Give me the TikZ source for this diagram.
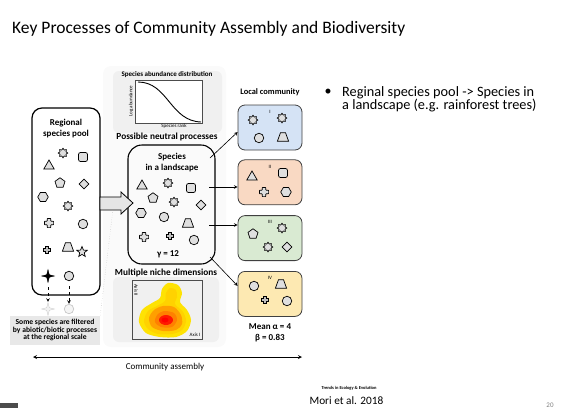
\documentclass[tikz,border=0pt]{standalone}
\usepackage{fontspec}
\setmainfont{Carlito}
\usepackage{tikz}
\usetikzlibrary{positioning}
\usetikzlibrary{shapes.geometric}

\definecolor{comblue}{HTML}{D5E3F5}
\definecolor{compeach}{HTML}{F9D9C3}
\definecolor{comgreen}{HTML}{D9EAD2}
\definecolor{comyellow}{HTML}{FDE9B2}

\begin{document}
\begin{tikzpicture}[x=1pt, y=-1pt,
                          sp/.style={draw, fill=gray!25, line width=0.7pt, inner sep=0pt},
                          roundnode/.style={sp, circle, minimum size=9.5pt},
                          trinode/.style={sp, regular polygon, regular polygon sides=3, minimum size=12pt},
                          pentnode/.style={sp, regular polygon, regular polygon sides=5, minimum size=10.5pt},
                          hexnode/.style={sp, regular polygon, regular polygon sides=6, minimum size=10.5pt},
                          diamnode/.style={sp, diamond, minimum size=10pt},
                          squarednode/.style={sp, rectangle, rounded corners=2pt, minimum size=9pt},
                          trapnode/.style={sp, trapezium, trapezium angle=70, inner xsep=2.5pt, inner ysep=4.3pt},
                          sunnode/.style={sp, star, star points=8, star point ratio=1.45, minimum size=9.5pt},
                          starnode/.style={sp, star, star points=5, star point ratio=2.3, minimum size=11pt},
                          sparknode/.style={draw, fill=black, star, star points=4, star point ratio=3.5, minimum size=13pt, inner sep=0pt, line width=0.3pt},
                          fadedspark/.style={sparknode, draw=gray!45, fill=gray!10},
                          fadedround/.style={roundnode, draw=gray!45, fill=gray!8},
                          plusbig/.pic={\draw[fill=gray!25, line width=0.7pt, rounded corners=0.6pt] (-1.8,-4.6) -- (1.8,-4.6) -- (1.8,-1.8) -- (4.6,-1.8) -- (4.6,1.8) -- (1.8,1.8) -- (1.8,4.6) -- (-1.8,4.6) -- (-1.8,1.8) -- (-4.6,1.8) -- (-4.6,-1.8) -- (-1.8,-1.8) -- cycle;},
                          plussmall/.pic={\draw[fill=gray!50, line width=1.2pt] (-1.3,-3.6) -- (1.3,-3.6) -- (1.3,-1.3) -- (3.6,-1.3) -- (3.6,1.3) -- (1.3,1.3) -- (1.3,3.6) -- (-1.3,3.6) -- (-1.3,1.3) -- (-3.6,1.3) -- (-3.6,-1.3) -- (-1.3,-1.3) -- cycle;},
                          poolbox/.style={draw, rounded corners=10pt, line width=1.2pt, minimum width=68pt, minimum height=187pt},
                          landbox/.style={draw, rounded corners=14pt, line width=1.1pt, minimum width=87pt, minimum height=119pt},
                          combox/.style={draw=black!75, rounded corners=7pt, line width=0.8pt, minimum width=64pt, minimum height=45pt},
                          insetbg/.style={fill=gray!12, rounded corners=6pt},
                          figlabel/.style={font=\bfseries\fontsize{9}{11}\selectfont, align=center},
                          headlabel/.style={font=\bfseries\fontsize{9.3}{11}\selectfont},
                          tinylabel/.style={font=\fontsize{5}{6}\selectfont, inner sep=0pt},
                          link/.style={->, >=stealth, line width=0.6pt},
                          droparrow/.style={->, >=stealth, dashed, line width=0.6pt},
                      ]
                      \useasboundingbox (0,0) rectangle (568,408);
                      %Title and notes
                      \node[anchor=base west, font=\fontsize{17.5}{20}\selectfont, inner sep=0pt] (title) at (12,33) {Key Processes of Community Assembly and Biodiversity};
                      \node[font=\fontsize{14}{16}\selectfont, inner sep=0pt] (bullet) at (328,92) {•};
                      \node[anchor=base west, font=\fontsize{14.3}{16}\selectfont, inner sep=0pt] (note1) at (342,96) {Reginal species pool -> Species in};
                      \node[anchor=base west, font=\fontsize{14.3}{16}\selectfont, inner sep=0pt] (note2) at (342,109.5) {a landscape (e.g. rainforest trees)};
                      \node[font=\bfseries\fontsize{4.5}{5}\selectfont, inner sep=0pt] (journal) at (349,388) {Trends in Ecology \& Evolution};
                      \node[font=\fontsize{11.3}{13}\selectfont, inner sep=0pt] (cite) at (346.5,400.5) {Mori et al. 2018};
                      \node[anchor=south, font=\fontsize{7}{8}\selectfont, text=gray, inner sep=0pt] (page) at (550,407.5) {20};
                      \fill[black!70] (0,403) rectangle (18,408);

                      %Panel
                      \fill[gray!4, rounded corners=8pt] (103,66) rectangle (226,347);
                      \node[insetbg, minimum width=109pt, minimum height=62pt] (sadbg) at (167.5,102) {};
                      \node[insetbg, minimum width=106pt, minimum height=65pt] (nichebg) at (166,309.5) {};

                      %Nodes
                      \node[poolbox]      (pool)     at (66,201.5)    {};
                      \node[landbox]      (land)     at (171.5,204.5) {};
                      \node[combox, fill=comblue]    (com1)     at (270,127.5)   {};
                      \node[combox, fill=compeach]   (com2)     [below=9pt of com1]  {};
                      \node[combox, fill=comgreen]   (com3)     [below=10pt of com2] {};
                      \node[combox, fill=comyellow]  (com4)     [below=10pt of com3] {};

                      \node[figlabel] (poollabel) at (66,128.5)  {Regional\\species pool};
                      \node[figlabel] (landlabel) at (172,162.5) {Species\\in a landscape};
                      \node[figlabel] (gamma)     at (168,254)   {γ = 12};
                      \node[figlabel, font=\bfseries\fontsize{8.4}{10}\selectfont] (localhead) at (270,92) {Local community};
                      \node[figlabel] (alpha) [below=3pt of com4] {Mean α = 4\\β = 0.83};
                      \foreach \c/\r in {com1/I, com2/II, com3/III, com4/IV}
                        \node[tinylabel] (\c num) at ([yshift=-7pt]\c.north) {\r};

                      \foreach \s/\x/\y [count=\i] in {trinode/49/166, sunnode/63/153, squarednode/83/157, pentnode/60/183,
                          diamnode/84/184, hexnode/43/197, sunnode/68/206, roundnode/83/224, trapnode/68/247,
                          starnode/82/252, sparknode/48/276, roundnode/69/276}
                        \node[\s] (pool\i) at (\x,\y) {};
                      \pic (poolplusa) at (49,223) {plusbig};
                      \pic (poolplusb) at (47,250) {plussmall};

                      \foreach \s/\x/\y [count=\i] in {trinode/142/186, sunnode/168/183, squarednode/191/188, pentnode/153/198,
                          sunnode/174/202, diamnode/201/205, hexnode/141/213, roundnode/164/217, trapnode/188/223, roundnode/194/240}
                        \node[\s] (land\i) at (\x,\y) {};
                      \pic (landplusa) at (144,237) {plusbig};
                      \pic (landplusb) at (170,236) {plussmall};

                      \foreach \s/\x/\y [count=\i] in {sunnode/253/120, sunnode/282/118, roundnode/259/138, trapnode/283/137}
                        \node[\s] (oneA\i) at (\x,\y) {};
                      \foreach \s/\x/\y [count=\i] in {trinode/252/177, squarednode/283/173, hexnode/286/192}
                        \node[\s] (twoB\i) at (\x,\y) {};
                      \pic (twoplus) at (264,192) {plusbig};
                      \foreach \s/\x/\y [count=\i] in {pentnode/253/234, sunnode/282/228, sunnode/268/247, diamnode/287/247}
                        \node[\s] (threeC\i) at (\x,\y) {};
                      \foreach \s/\x/\y [count=\i] in {roundnode/254/286, trapnode/281/284, roundnode/287/301}
                        \node[\s] (fourD\i) at (\x,\y) {};
                      \pic (fourplus) at (265,300) {plussmall};

                      \node[fadedspark] (fade1) at (48,309) {};
                      \node[fadedround] (fade2) at (69,309) {};
                      \node[fill=gray!18, minimum width=90pt, minimum height=29pt, align=center, inner sep=0pt,
                            font=\bfseries\fontsize{7.6}{7.8}\selectfont] (filt) at (55,330)
                            {Some species are filtered\\by abiotic/biotic processes\\at the regional scale};

                      %Abundance inset
                      \node[font=\bfseries\fontsize{7}{8}\selectfont, inner sep=0pt] (sadhead) at (167,75) {Species abundance distribution};
                      \draw[black!70, fill=white, line width=0.6pt] (135,80) rectangle (202,123);
                      \draw[line width=0.9pt] (138,82) .. controls (168,82) and (170,121) .. (201,122);
                      \node[tinylabel] (rank) at (174,126.5) {Species rank};
                      \node[tinylabel, rotate=90] (logab) at (131,101) {Log abundance};
                      \node[headlabel] (neutral) at (167,137) {Possible neutral processes};

                      %Niche inset
                      \node[headlabel] (niche) at (166,273) {Multiple niche dimensions};
                      \fill[yellow!85!orange] plot[smooth cycle] coordinates {(168,283) (178,285) (182,293) (180,302) (187,310) (191,320) (187,331) (176,337) (160,337) (146,333) (139,322) (142,310) (152,303) (160,298) (162,289)};
                      \fill[orange!35!yellow] plot[smooth cycle] coordinates {(170,288) (176,290) (177,297) (175,304) (183,312) (186,321) (182,330) (172,334) (158,334) (148,329) (144,321) (148,311) (157,306) (165,301) (166,293)};
                      \fill[orange!75!yellow] plot[smooth cycle] coordinates {(163,306) (174,307) (181,315) (182,324) (176,330) (163,331) (152,327) (149,318) (154,310)};
                      \fill[orange] plot[smooth cycle] coordinates {(164,311) (174,313) (177,320) (172,327) (161,327) (155,322) (157,315)};
                      \fill[red!80!orange] (166,320) ellipse (7pt and 5pt);
                      \fill[red] (165,320) ellipse (3.5pt and 2.5pt);
                      \draw[black!70, line width=0.6pt] (132,280) rectangle (202,339);
                      \node[tinylabel, rotate=-90] (axtwo) at (136,290) {Axis II};
                      \node[tinylabel] (axone) at (195,334.5) {Axis I};

                      %Lines
                      \draw[fill=gray!20, line width=0.8pt] (100,197) -- (121,197) -- (121,192) -- (133,203) -- (121,214) -- (121,210) -- (100,210) -- cycle;
                      \coordinate (arrowfoot) at (113,209);
                      \draw[dotted, gray!60, line width=0.4pt] (filt.north east) -- (arrowfoot);
                      \draw[droparrow, shorten <=4pt] (pool11.south) -- (fade1.north);
                      \draw[droparrow, shorten <=5pt] (pool12.south) -- (fade2.north);
                      \coordinate (out1) at (210,158);
                      \coordinate (out2) at (209,187);
                      \coordinate (out3) at (209,225);
                      \coordinate (out4) at (210,257);
                      \draw[link] (out1) -- ([yshift=-4.5pt]com1.west);
                      \draw[link] (out2) -- (out2 -| com2.west);
                      \draw[link] (out3) -- (out3 -| com3.west);
                      \draw[link] (out4) -- ([yshift=8pt]com4.west);
                      \coordinate (asmleft) at (33,357);
                      \coordinate (asmright) at (302,357);
                      \draw[<->, >=stealth, line width=0.8pt] (asmleft) -- (asmright);
                      \node[font=\fontsize{9}{11}\selectfont, inner sep=0pt] (assembly) at (165,367.5) {Community assembly};
                  \end{tikzpicture}
\end{document}
